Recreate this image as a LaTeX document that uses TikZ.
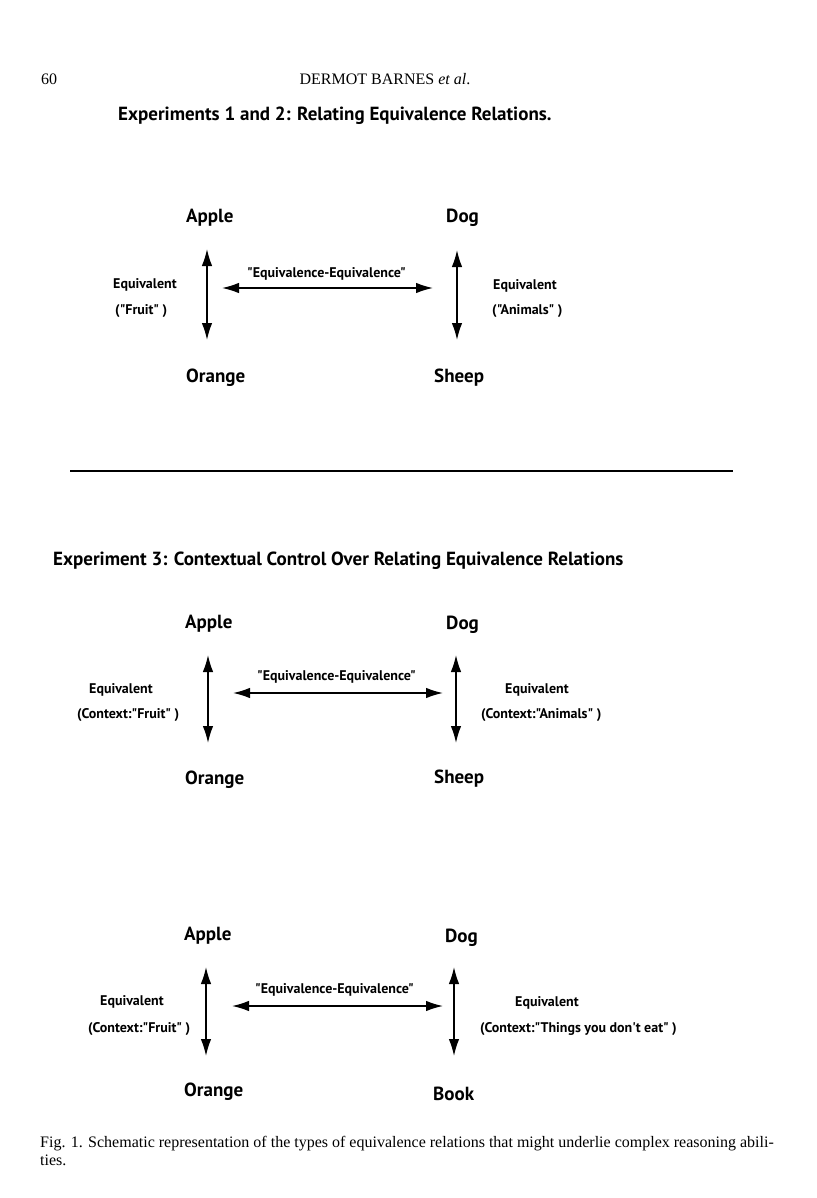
\documentclass[tikz,border=0pt]{standalone}
\usepackage{fontspec}
\setmainfont{Liberation Serif}
\setsansfont[Ligatures=TeXOff]{PT Sans}
\usetikzlibrary{arrows.meta}
\tikzset{
  serif/.style={font=\fontsize{16}{19}\selectfont, inner sep=0pt, anchor=base west},
  caption/.style={font=\fontsize{16}{18}\selectfont, inner sep=0pt, anchor=base west},
  heading/.style={font=\sffamily\bfseries\fontsize{19}{22}\selectfont, inner sep=0pt, anchor=base west},
  word/.style={font=\sffamily\bfseries\fontsize{19}{22}\selectfont, inner sep=0pt, anchor=base west},
  lab/.style={font=\sffamily\bfseries\fontsize{14}{16}\selectfont, inner sep=0pt, anchor=base west},
  rel/.style={{Latex[length=17pt,width=10.5pt]}-{Latex[length=17pt,width=10.5pt]}, line width=1.4pt},
}
\begin{document}
\begin{tikzpicture}[x=1pt,y=-1pt]
        \useasboundingbox (0,0) rectangle (816,1198);
        \node[serif] (page) at (41,85) {60};
        \node[serif, anchor=base] (running) at (385,85) {DERMOT BARNES \textit{et al}.};
        \node[heading] (head1) at (118,121) {Experiments 1 and 2: Relating Equivalence Relations.};

        \node[word] (apple1) at (186,223) {Apple};
        \node[word] (dog1) at (446,223) {Dog};
        \node[word] (orange1) at (186,382) {Orange};
        \node[word] (sheep1) at (434,382) {Sheep};
        \node[lab] (eqa1) at (113,288) {Equivalent};
        \node[lab] (ctxa1) at (115,314) {("Fruit" )};
        \node[lab] (eqb1) at (493,289) {Equivalent};
        \node[lab] (ctxb1) at (492,314) {("Animals" )};
        \node[lab] (ee1) at (247,277) {"Equivalence-Equivalence"};
        \coordinate (lt1) at (207,249);
        \coordinate (lb1) at (207,340);
        \coordinate (rt1) at (457,250);
        \coordinate (rb1) at (457,340);
        \coordinate (hl1) at (222,288);
        \coordinate (hr1) at (433,288);
        \draw[rel] (lt1) -- (lb1);
        \draw[rel] (rt1) -- (rb1);
        \draw[rel] (hl1) -- (hr1);

        \draw[line width=2pt] (70,471) -- (733,471);

        \node[heading] (head3) at (53,565) {Experiment 3: Contextual Control Over Relating Equivalence Relations};

        \node[word] (apple2) at (185,628) {Apple};
        \node[word] (dog2) at (446,629) {Dog};
        \node[word] (orange2) at (185,784) {Orange};
        \node[word] (sheep2) at (434,783) {Sheep};
        \node[lab] (eqa2) at (89,693) {Equivalent};
        \node[lab] (ctxa2) at (77,718) {(Context:"Fruit" )};
        \node[lab] (eqb2) at (505,693) {Equivalent};
        \node[lab] (ctxb2) at (481,718) {(Context:"Animals" )};
        \node[lab] (ee2) at (257,680) {"Equivalence-Equivalence"};
        \coordinate (lt2) at (208,655);
        \coordinate (lb2) at (208,743);
        \coordinate (rt2) at (456,655);
        \coordinate (rb2) at (456,743);
        \coordinate (hl2) at (233,693);
        \coordinate (hr2) at (443,693);
        \draw[rel] (lt2) -- (lb2);
        \draw[rel] (rt2) -- (rb2);
        \draw[rel] (hl2) -- (hr2);

        \node[word] (apple3) at (184,940) {Apple};
        \node[word] (dog3) at (445,942) {Dog};
        \node[word] (orange3) at (184,1096) {Orange};
        \node[word] (book3) at (433,1100) {Book};
        \node[lab] (eqa3) at (100,1005) {Equivalent};
        \node[lab] (ctxa3) at (88,1032) {(Context:"Fruit" )};
        \node[lab] (eqb3) at (515,1006) {Equivalent};
        \node[lab] (ctxb3) at (480,1032) {(Context:"Things you don't eat" )};
        \node[lab] (ee3) at (255,993) {"Equivalence-Equivalence"};
        \coordinate (lt3) at (206,967);
        \coordinate (lb3) at (206,1056);
        \coordinate (rt3) at (454,967);
        \coordinate (rb3) at (454,1056);
        \coordinate (hl3) at (232,1006);
        \coordinate (hr3) at (443,1006);
        \draw[rel] (lt3) -- (lb3);
        \draw[rel] (rt3) -- (rb3);
        \draw[rel] (hl3) -- (hr3);

        \node[caption] (cap1) at (40,1147) {Fig. 1. Schematic representation of the types of equivalence relations that might underlie complex reasoning abili-};
        \node[caption] (cap2) at (40,1165) {ties.};
\end{tikzpicture}
\end{document}
